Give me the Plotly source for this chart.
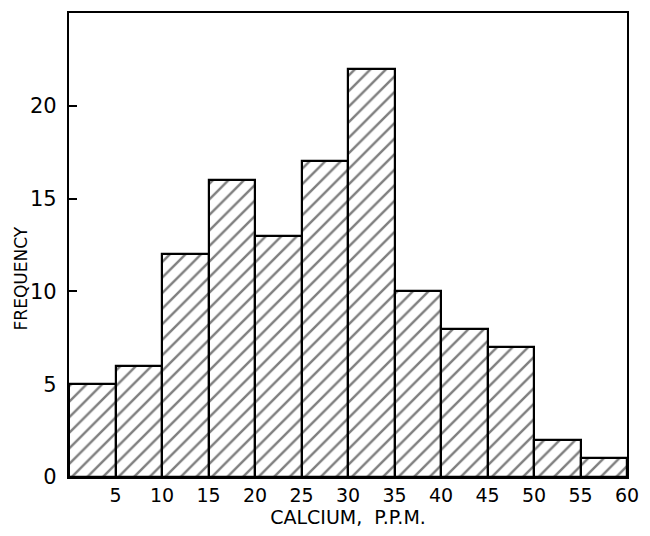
import plotly.graph_objects as go

bin_starts = [0, 5, 10, 15, 20, 25, 30, 35, 40, 45, 50, 55]
bin_width = 5
frequency = [5, 6, 12, 16, 13, 17, 22, 10, 8, 7, 2, 1]
x_ticks = [5, 10, 15, 20, 25, 30, 35, 40, 45, 50, 55, 60]
y_ticks = [0, 5, 10, 15, 20]

centers = [s + bin_width / 2 for s in bin_starts]

fig = go.Figure()
fig.add_trace(go.Bar(
    x=centers, y=frequency, width=[bin_width] * len(centers),
    marker=dict(color="white",
                line=dict(color="black", width=2.2),
                pattern=dict(shape="/", size=11, solidity=0.22,
                             fgcolor="black", bgcolor="white")),
    showlegend=False,
))

fig.update_layout(
    width=650, height=536,
    margin=dict(l=69, r=14, t=11, b=58),
    paper_bgcolor="white", plot_bgcolor="white",
    bargap=0,
    font=dict(family="DejaVu Sans", size=18, color="black"),
    xaxis=dict(range=[0, 60], tickvals=x_ticks, ticks="",
               showline=True, linecolor="black", linewidth=2.2, mirror=True,
               showgrid=False, zeroline=False,
               title=dict(text="CALCIUM,  P.P.M.", font=dict(size=19), standoff=6),
               tickfont=dict(size=19)),
    yaxis=dict(range=[0, 25], tickvals=y_ticks, ticks="inside", ticklen=8,
               tickwidth=2.2, tickcolor="black",
               showline=True, linecolor="black", linewidth=2.2, mirror=True,
               showgrid=False, zeroline=False,
               ticklabelstandoff=6,
               tickfont=dict(size=21)),
    annotations=[dict(text="FREQUENCY", textangle=-90, showarrow=False,
                      xref="paper", yref="paper", x=0, y=0.428,
                      xanchor="center", yanchor="middle", xshift=-48,
                      font=dict(size=17, family="DejaVu Sans", color="black"))],
)
fig.write_html("out.html")
